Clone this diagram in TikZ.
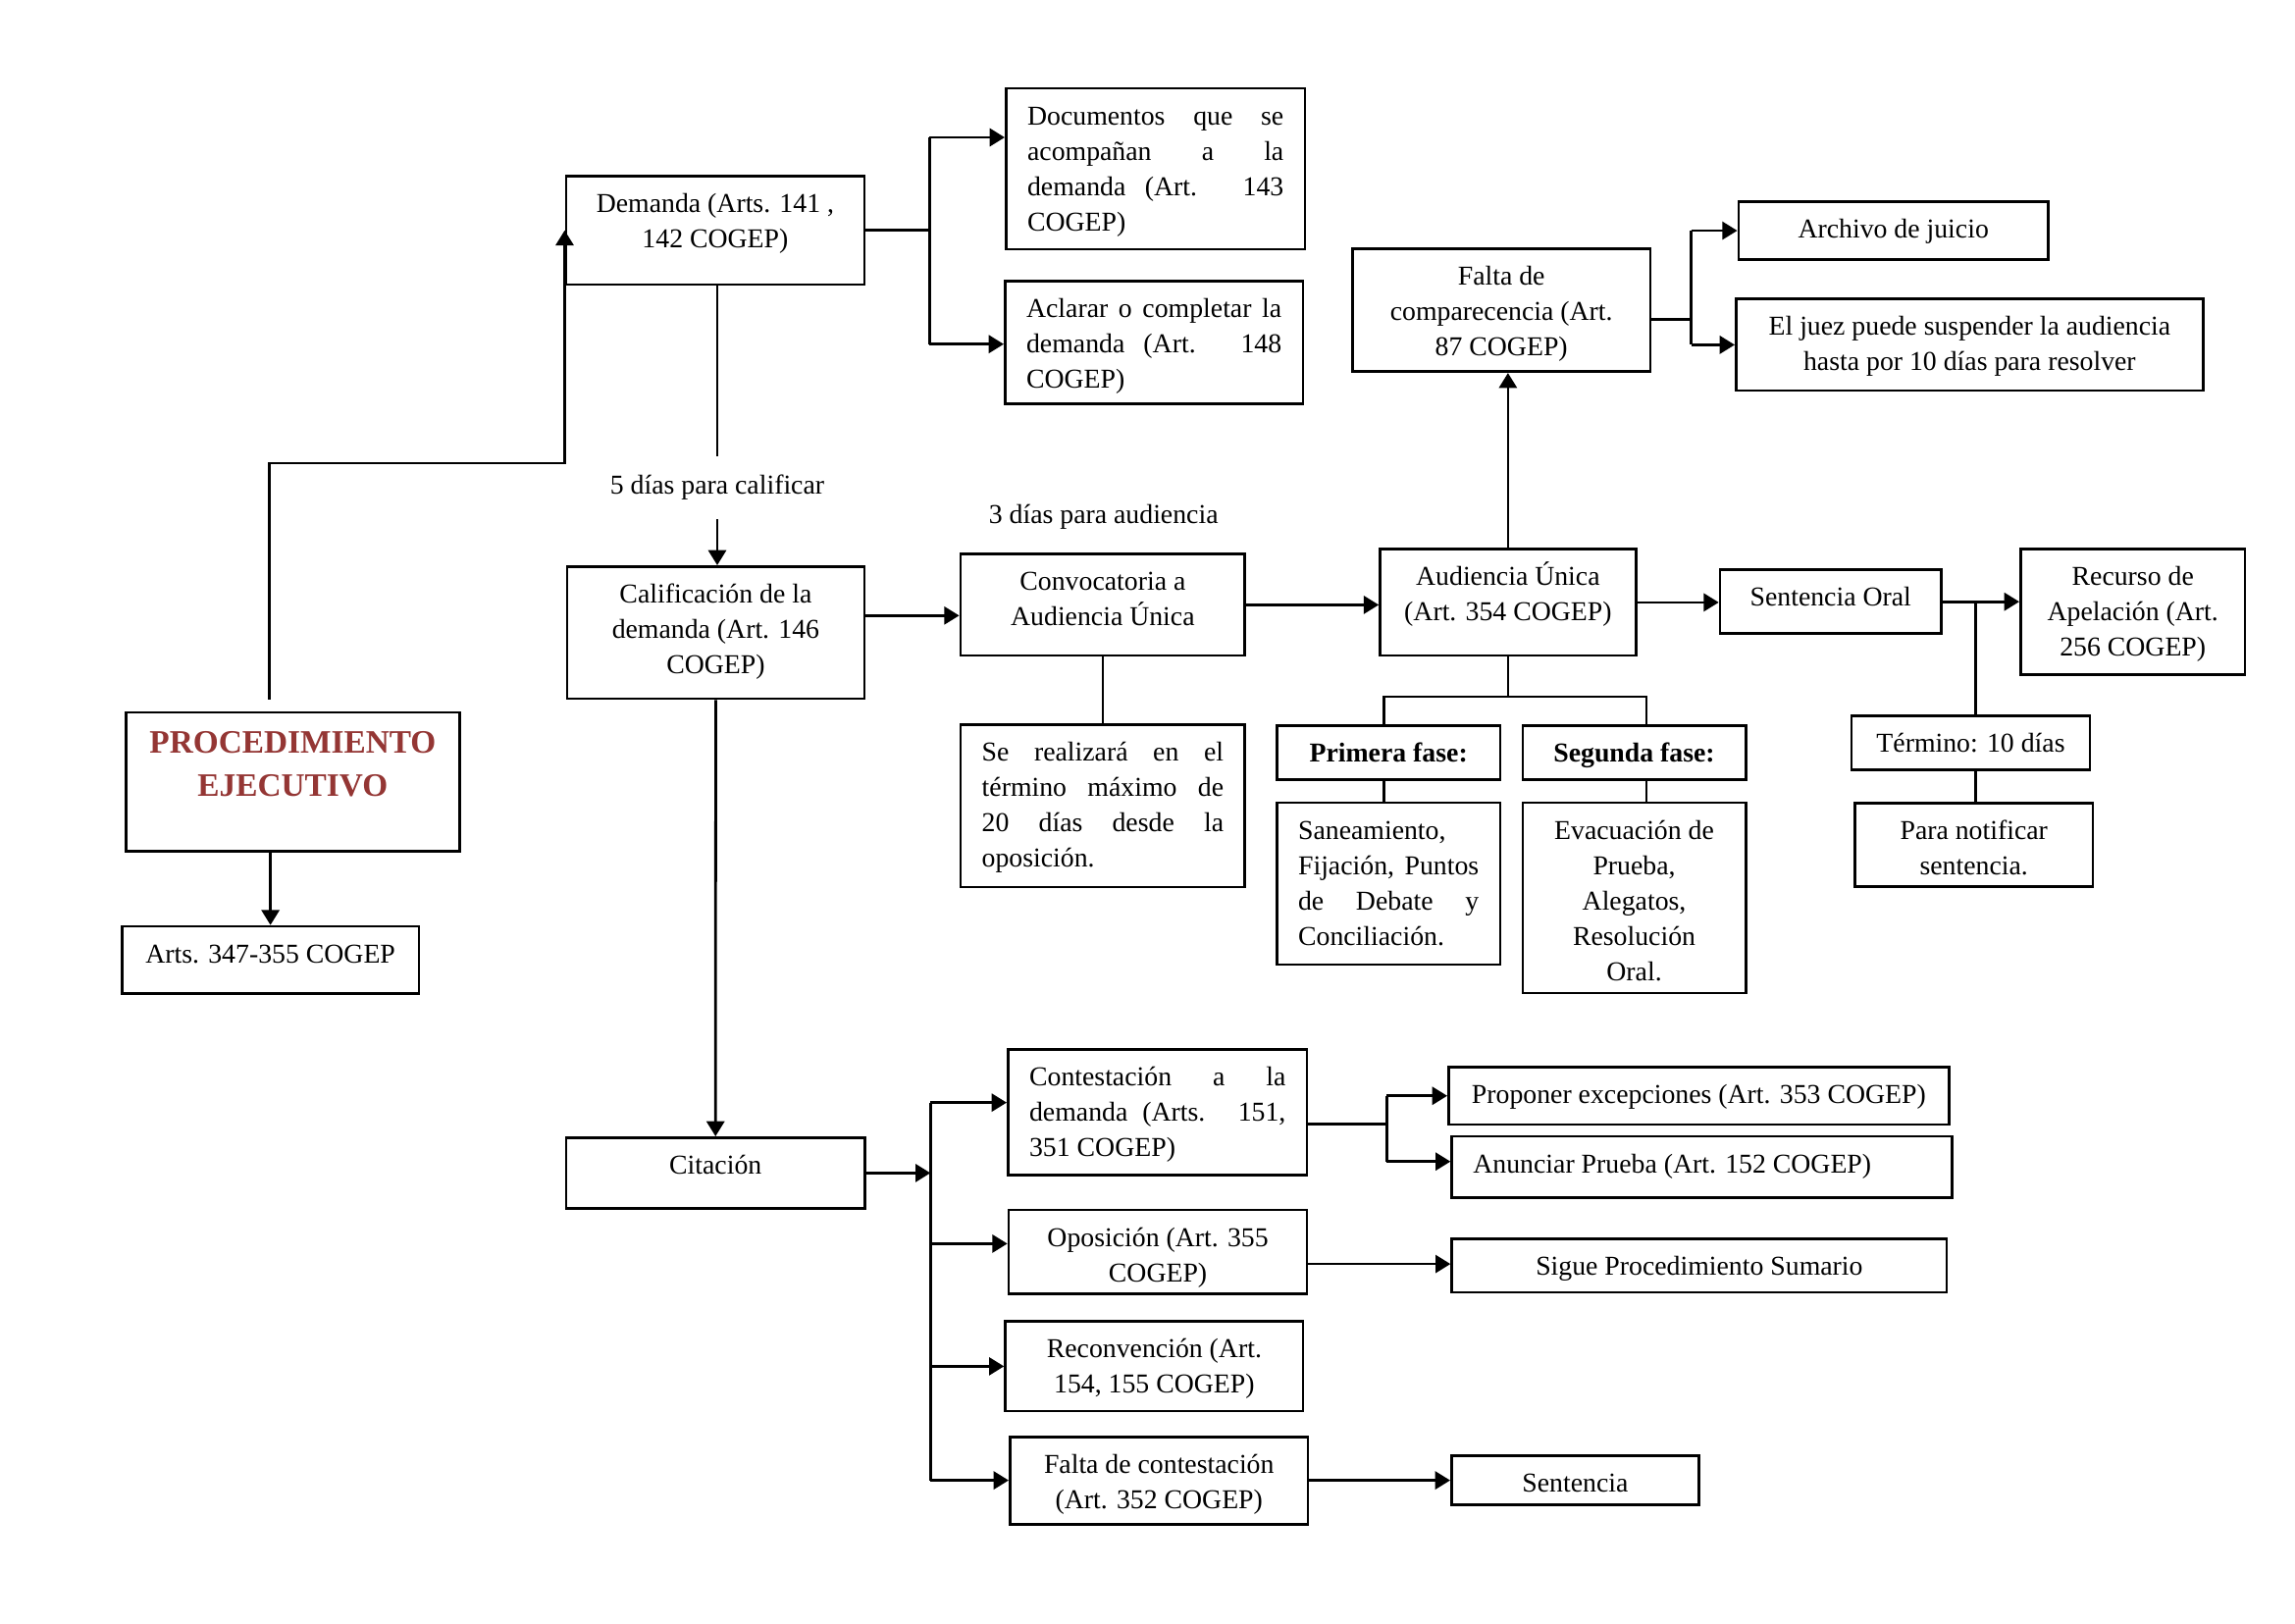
\documentclass[tikz,border=0pt]{standalone}
\usepackage{fontspec}
\setmainfont{Liberation Serif}
\usetikzlibrary{arrows.meta,calc}
\newlength\pxu
\setlength\pxu{0.36pt}
\newcommand\jl[1]{\makebox[\linewidth][s]{#1}}
\newcommand\bc[3]{\parbox[c][#1\pxu][t]{\dimexpr#2\pxu-43.4\pxu\relax}{\vspace*{4.2pt}\centering\strut#3}}
\newcommand\bj[3]{\parbox[c][#1\pxu][t]{\dimexpr#2\pxu-43.4\pxu\relax}{\vspace*{4.2pt}\strut#3}}
\definecolor{procred}{RGB}{148,54,52}
\tikzset{
  box/.style={draw, line width=1pt, inner xsep=21.7\pxu, inner ysep=0pt, anchor=north west,
    font=\fontsize{10pt}{13pt}\selectfont},
  conn/.style={line width=1pt},
  arr/.style={conn, -{Triangle[length=5.5pt,width=6.5pt]}},
  lbl/.style={inner sep=0pt, font=\fontsize{10pt}{13pt}\selectfont}
}
\begin{document}
\begin{tikzpicture}[x=0.36pt, y=-0.36pt]
\path[use as bounding box, fill=white] (0,0) rectangle (2339,1654);

% boxes
\node[box] (proc) at (127,724.7) {\parbox[c][141.3\pxu][t]{\dimexpr340\pxu-43.4\pxu\relax}{\vspace*{3.7pt}\centering\fontsize{12pt}{16pt}\selectfont\bfseries\color{procred}\strut PROCEDIMIENTO\\EJECUTIVO}};
\node[box] (arts) at (123,942.7) {\bc{68.3}{302.5}{Arts. 347-355 COGEP}};
\node[box] (dem) at (575.5,178) {\bc{110.7}{304.1}{Demanda (Arts. 141 ,\\142 COGEP)}};
\node[box] (doc) at (1024,88.7) {\bj{164}{304.6}{\jl{Documentos que se}\par\jl{acompañan a la}\par\jl{demanda (Art. 143}\par COGEP)}};
\node[box] (acl) at (1023,285) {\bj{125}{303.5}{\jl{Aclarar o completar la}\par\jl{demanda (Art. 148}\par COGEP)}};
\node[box] (cal) at (576.5,576) {\bc{134.7}{303.1}{Calificación de la\\demanda (Art. 146\\COGEP)}};
\node[box] (conv) at (977.6,563.3) {\bc{103.4}{289.8}{Convocatoria a\\Audiencia Única}};
\node[box] (se) at (977.6,737.3) {\bj{165.4}{289.8}{\jl{Se realizará en el}\par\jl{término máximo de}\par\jl{20 días desde la}\par oposición.}};
\node[box] (aud) at (1405.2,558.3) {\bc{108.4}{260.6}{Audiencia Única\\(Art. 354 COGEP)}};
\node[box] (falc) at (1377,252) {\bc{125.3}{303.6}{Falta de\\comparecencia (Art.\\87 COGEP)}};
\node[box] (arch) at (1770.6,204) {\bc{59.3}{315.4}{Archivo de juicio}};
\node[box] (juez) at (1768,303.3) {\bc{93.4}{476}{El juez puede suspender la audiencia\\hasta por 10 días para resolver}};
\node[box] (sor) at (1751.7,579.3) {\bc{65}{225.3}{Sentencia Oral}};
\node[box] (rec) at (2058,558.3) {\bc{127.7}{228.7}{Recurso de\\Apelación (Art.\\256 COGEP)}};
\node[box] (term) at (1885.6,728.3) {\bc{55}{243}{Término: 10 días}};
\node[box] (para) at (1889,817.3) {\bc{85}{242.7}{Para notificar\\sentencia.}};
\node[box] (pri) at (1300,738.3) {\bc{55}{227.5}{\bfseries Primera fase:}};
\node[box] (seg) at (1550.5,738.3) {\bc{55}{227.3}{\bfseries Segunda fase:}};
\node[box] (san) at (1300,816.7) {\bj{165}{227.5}{Saneamiento,\par\jl{Fijación, Puntos}\par\jl{de Debate y}\par Conciliación.}};
\node[box] (eva) at (1550.5,816.7) {\bc{194}{227.3}{Evacuación de\\Prueba,\\Alegatos,\\Resolución\\Oral.}};
\node[box] (cit) at (575.7,1158) {\bc{72}{304.3}{Citación}};
\node[box] (con) at (1026,1068.3) {\bj{127.7}{304.7}{\jl{Contestación a la}\par\jl{demanda (Arts. 151,}\par 351 COGEP)}};
\node[box] (opo) at (1026.7,1231.7) {\bc{85.6}{304}{Oposición (Art. 355\\COGEP)}};
\node[box] (recv) at (1023.3,1345.3) {\bc{91.4}{303.4}{Reconvención (Art.\\154, 155 COGEP)}};
\node[box] (fcon) at (1028,1462.7) {\bc{89}{303.7}{Falta de contestación\\(Art. 352 COGEP)}};
\node[box] (prop) at (1475,1086) {\bc{58.7}{510}{Proponer excepciones (Art. 353 COGEP)}};
\node[box] (anun) at (1478.3,1156.7) {\bj{62.6}{509.5}{Anunciar Prueba (Art. 152 COGEP)}};
\node[box] (sig) at (1478.3,1261.3) {\bc{54.4}{504.4}{Sigue Procedimiento Sumario}};
\node[box] (sen) at (1478,1481.7) {\bc{50}{252}{Sentencia}};

% free labels
\node[lbl, inner ysep=6.9pt] (lab5) at (731,497) {5 días para calificar};
\node[lbl] (lab3) at (1124.7,526.7) {3 días para audiencia};

% connectors
\coordinate (c1) at (274.5,472);
\draw[arr, shorten <=12\pxu] (c1 |- proc.north) -- (c1) -- (c1 -| dem.west) -- (dem.west);
\draw[arr] (proc.south -| arts.north) -- (arts.north);

\draw[conn] (dem.south -| lab5) -- (lab5.north);
\draw[arr] (lab5.south) -- (cal.north -| lab5);

\coordinate (b1) at (947.4,140);
\coordinate (b1b) at (947.4,350.7);
\draw[conn] (dem.east) -- (dem.east -| b1);
\draw[conn] (b1) -- (b1b);
\draw[arr] (b1) -- (b1 -| doc.west);
\draw[arr] (b1b) -- (b1b -| acl.west);

\coordinate (y1) at (0,627.3);
\draw[arr] (cal.east |- y1) -- (conv.west |- y1);
\draw[arr] (conv.east) -- (conv.east -| aud.west);
\draw[conn] (conv.south) -- (se.north);
\draw[arr] (cal.south) -- (cit.north);
\draw[arr] (aud.north) -- (aud.north |- falc.south);

\coordinate (b2) at (1723.5,0);
\coordinate (fe) at ([yshift=-9.4\pxu]falc.east);
\draw[conn] (fe) -- (fe -| b2);
\draw[conn] (arch.west -| b2) -- (juez.west -| b2);
\draw[arr] (arch.west -| b2) -- (arch.west);
\draw[arr] (juez.west -| b2) -- (juez.west);

\draw[arr] (aud.east) -- (aud.east -| sor.west);
\draw[arr] (sor.east) -- (sor.east -| rec.west);
\coordinate (j3) at (2013.8,0);
\draw[conn] (sor.east -| j3) -- (term.north -| j3);
\draw[conn] (term.south -| j3) -- (para.north -| j3);

\coordinate (t1) at (1410.4,710);
\coordinate (t2) at (1677.9,710);
\draw[conn] (aud.south) -- (aud.south |- t1);
\draw[conn] (pri.north -| t1) -- (t1) -- (t2) -- (seg.north -| t2);
\draw[conn] (pri.south -| t1) -- (san.north -| t1);
\draw[conn] (seg.south -| t2) -- (eva.north -| t2);

\coordinate (b3) at (948.3,0);
\draw[arr] (cit.east) -- (cit.east -| b3);
\coordinate (ca) at ([yshift=9.9\pxu]con.west);
\coordinate (oa) at ([yshift=8.5\pxu]opo.west);
\draw[conn] (ca -| b3) -- (fcon.west -| b3);
\draw[arr] (ca -| b3) -- (ca);
\draw[arr] (oa -| b3) -- (oa);
\draw[arr] (recv.west -| b3) -- (recv.west);
\draw[arr] (fcon.west -| b3) -- (fcon.west);

\coordinate (b4) at (1413.3,0);
\coordinate (ce) at ([yshift=-12.1\pxu]con.east);
\coordinate (aa) at ([yshift=5.7\pxu]anun.west);
\draw[conn] (ce) -- (ce -| b4);
\draw[conn] (prop.west -| b4) -- (aa -| b4);
\draw[arr] (prop.west -| b4) -- (prop.west);
\draw[arr] (aa -| b4) -- (aa);

\coordinate (oe) at ([yshift=-12.2\pxu]opo.east);
\draw[arr] (oe) -- (oe -| sig.west);
\draw[arr] (fcon.east) -- (fcon.east -| sen.west);
\end{tikzpicture}
\end{document}
